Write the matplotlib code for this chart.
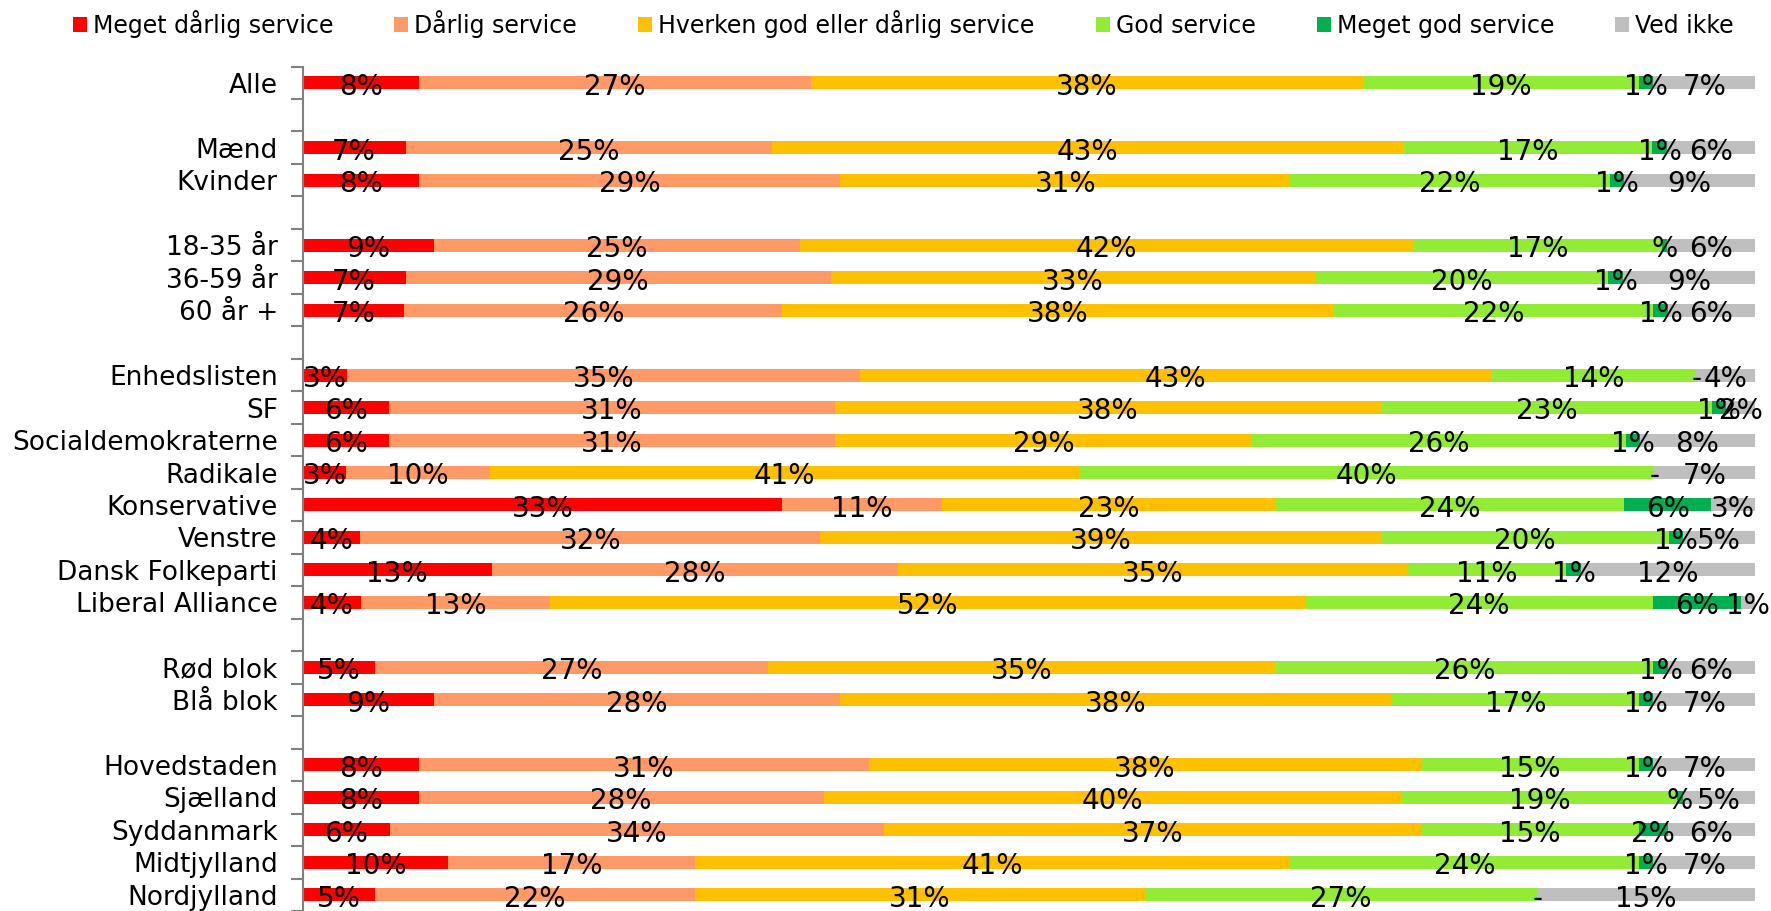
import matplotlib.pyplot as plt
import numpy as np
from matplotlib.patches import Patch

# Kategorier (tomme strenge = mellemrum mellem grupperne)
kategorier = ["Alle", "",
              "Mænd", "Kvinder", "",
              "18-35 år", "36-59 år", "60 år +", "",
              "Enhedslisten", "SF", "Socialdemokraterne", "Radikale",
              "Konservative", "Venstre", "Dansk Folkeparti", "Liberal Alliance", "",
              "Rød blok", "Blå blok", "",
              "Hovedstaden", "Sjælland", "Syddanmark", "Midtjylland", "Nordjylland"]

serier = ["Meget dårlig service", "Dårlig service", "Hverken god eller dårlig service",
          "God service", "Meget god service", "Ved ikke"]
farver = ["#FF0000", "#FF9966", "#FFC000", "#92EB34", "#00B050", "#BFBFBF"]

# Værdier i procent (None = tom række)
meget_daarlig = [8, None, 7, 8, None, 9, 7, 7, None, 3, 6, 6, 3, 33, 4, 13, 4, None, 5, 9, None, 8, 8, 6, 10, 5]
daarlig = [27, None, 25, 29, None, 25, 29, 26, None, 35, 31, 31, 10, 11, 32, 28, 13, None, 27, 28, None, 31, 28, 34, 17, 22]
hverken = [38, None, 43, 31, None, 42, 33, 38, None, 43, 38, 29, 41, 23, 39, 35, 52, None, 35, 38, None, 38, 40, 37, 41, 31]
god = [19, None, 17, 22, None, 17, 20, 22, None, 14, 23, 26, 40, 24, 20, 11, 24, None, 26, 17, None, 15, 19, 15, 24, 27]
meget_god = [1, None, 1, 1, None, 0.4, 1, 1, None, 0, 1, 1, 0, 6, 1, 1, 6, None, 1, 1, None, 1, 0.4, 2, 1, 0]
ved_ikke = [7, None, 6, 9, None, 6, 9, 6, None, 4, 2, 8, 7, 3, 5, 12, 1, None, 6, 7, None, 7, 5, 6, 7, 15]

alle_serier = [meget_daarlig, daarlig, hverken, god, meget_god, ved_ikke]


def etiket(v):
    if v == 0:
        return "-"
    if v < 0.5:
        return "%"
    return f"{round(v)}%"


fig = plt.figure(figsize=(17.71, 9.11), dpi=100)
ax = fig.add_axes([0.171, 0.0, 0.82, 0.927])

y = np.arange(len(kategorier))
for i in range(len(kategorier)):
    raekke = [s[i] for s in alle_serier]
    if raekke[0] is None:
        continue
    total = sum(raekke)
    venstre = 0.0
    for j, v in enumerate(raekke):
        w = v / total
        ax.barh(i, w, left=venstre, height=0.4, color=farver[j], linewidth=0)
        ax.text(venstre + w / 2, i + 0.12, etiket(v), ha="center", va="center",
                fontsize=20, color="black")
        venstre += w

ax.set_xlim(0, 1)
ax.set_ylim(len(kategorier) - 0.5, -0.5)
ax.set_yticks(np.arange(-0.5, len(kategorier)), minor=False)
ax.set_yticklabels([])
ax.set_yticks(y, minor=True)
ax.set_yticklabels(kategorier, minor=True, fontsize=19)
ax.tick_params(axis="y", which="minor", length=0, pad=18)
ax.tick_params(axis="y", which="major", length=9, width=1.5, color="#808080")
ax.set_xticks([])
for side in ["top", "right", "bottom"]:
    ax.spines[side].set_visible(False)
ax.spines["left"].set_color("#808080")
ax.spines["left"].set_linewidth(1.5)

handles = [Patch(facecolor=f, edgecolor="none") for f in farver]
fig.legend(handles, serier, loc="center left", ncol=6, mode="expand",
           bbox_to_anchor=(0.041, 0.964, 0.938, 0.02), frameon=False,
           fontsize=17, handlelength=0.6, handleheight=0.6, handletextpad=0.25,
           borderaxespad=0, borderpad=0)

fig.savefig("out.png", dpi=100)
